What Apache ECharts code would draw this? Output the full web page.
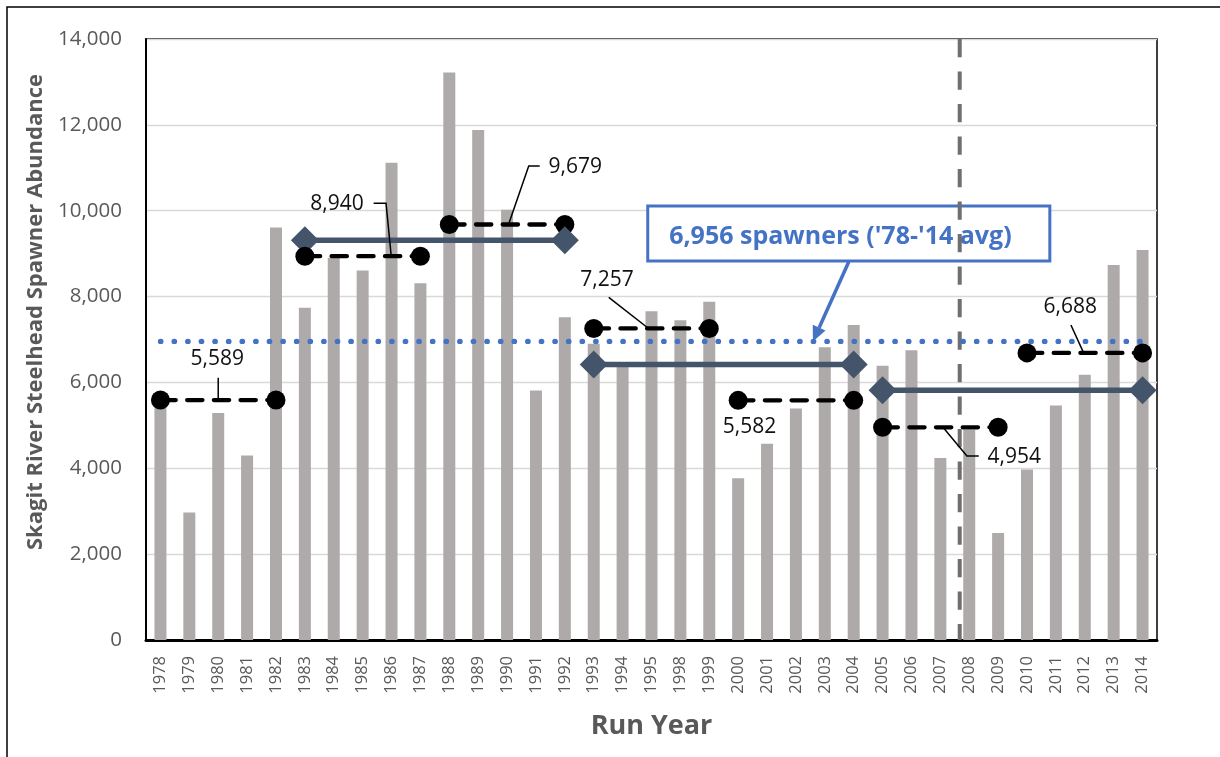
<!DOCTYPE html>
<html><head><meta charset="utf-8">
<script src="https://cdn.jsdelivr.net/npm/echarts@6/dist/echarts.min.js"></script>
<style>html,body{margin:0;padding:0;background:#fff}#c{width:1220px;height:757px}</style>
</head><body><div id="c"></div>
<script>
// ---- data ----
const years = ['1978','1979','1980','1981','1982','1983','1984','1985','1986','1987',
  '1988','1989','1990','1991','1992','1993','1994','1995','1998','1999',
  '2000','2001','2002','2003','2004','2005','2006','2007','2008','2009',
  '2010','2011','2012','2013','2014'];
const spawners = [5745,2970,5290,4300,9610,7740,8900,8610,11120,8310,
  13220,11880,10020,5810,7520,6900,6420,7660,7450,7880,
  3770,4570,5390,6820,7340,6390,6750,4240,4900,2490,
  3970,5460,6180,8735,9085];
const longTermAvg = 6956;
const fiveYrStart = ['1978','1983','1988','1993','2000','2005','2010'];
const fiveYrEnd   = ['1982','1987','1992','1999','2004','2009','2014'];
const fiveYrAvg   = [5589,8940,9679,7257,5582,4954,6688];
const periodStart = ['1983','1993','2005'];
const periodEnd   = ['1992','2004','2014'];
const periodAvg   = [9310,6420,5820];
const dividerPos  = 27.67; // between 2007 and 2008, in category-index units
const boxText = "6,956 spawners ('78-'14 avg)";

// ---- annotation layout (data-space anchors) ----
const noteLayout = [
  {at:[1.97,6534],  leader:[[2.0,6110],[2.0,5589]]},
  {at:[6.11,10156], leader:[[7.38,10173],[7.81,10173],[7.99,8940]]},
  {at:[14.36,11025],leader:[[13.13,11041],[12.75,11041],[12.05,9679]]},
  {at:[15.46,8386], leader:[[15.52,7983],[16.9,7257]]},
  {at:[20.39,4969], leader:null},
  {at:[29.56,4270], leader:[[28.33,4286],[27.92,4286],[27.09,4954]]},
  {at:[31.5,7764],  leader:[[31.52,7338],[31.96,6688]]}
];
const boxLayout = {tl:[16.87,10110], br:[30.79,8829], text:[23.54,9399], arrowFrom:[23.83,8812], arrowTo:[22.59,6956]};

const FONT = "'Open Sans', sans-serif";
const GREY = '#595959';
const fmt = v => v.toLocaleString('en-US');

const chart = echarts.init(document.getElementById('c'), null, {renderer:'canvas'});

const series = [
  {type:'bar', data:spawners, barWidth:12, itemStyle:{color:'#AEAAAA'}, z:2},
  {type:'line', xAxisIndex:1, data:[[dividerPos,14000],[dividerPos,0]], symbol:'none',
   lineStyle:{color:'#6F6F6F', width:4, type:[18.3,14.2]}, z:2.5},
  {type:'line', data:[[years[0],longTermAvg],[years[years.length-1],longTermAvg]], symbol:'none',
   lineStyle:{color:'#4472C4', width:5.2, type:[0.5,13.1], cap:'round'}, z:3}
];
periodAvg.forEach((v,i)=>{
  series.push({type:'line', data:[[periodStart[i],v],[periodEnd[i],v]], symbol:'diamond', symbolSize:28,
    itemStyle:{color:'#44546A'}, lineStyle:{color:'#44546A', width:5.5}, z:4});
});
fiveYrAvg.forEach((v,i)=>{
  series.push({type:'line', data:[[fiveYrStart[i],v],[fiveYrEnd[i],v]], symbol:'circle', symbolSize:19,
    itemStyle:{color:'#000'}, lineStyle:{color:'#000', width:4.3, type:[15.3,11.4], cap:'round'}, z: i===2?3.5:5});
});

chart.setOption({
  animation:false,
  backgroundColor:'#fff',
  grid:{left:146, top:39, width:1011, height:601, show:true, borderColor:'#000', borderWidth:1.5, containLabel:false},
  xAxis:[
    {type:'category', data:years, boundaryGap:true,
     axisLine:{onZero:false, lineStyle:{color:'#000', width:3}}, axisTick:{show:false},
     axisLabel:{rotate:90, interval:0, margin:16, fontSize:16.5, color:GREY, fontFamily:FONT},
     name:'Run Year', nameLocation:'middle', nameGap:73,
     nameTextStyle:{fontSize:27, fontWeight:'bold', color:GREY, fontFamily:FONT}},
    {type:'value', min:-0.5, max:years.length-0.5, show:false}
  ],
  yAxis:{type:'value', min:0, max:14000, interval:2000,
    axisLine:{show:true, onZero:false, lineStyle:{color:'#000', width:2}}, axisTick:{show:false},
    splitLine:{lineStyle:{color:'#D9D9D9', width:1.3}},
    axisLabel:{margin:24, fontSize:20.5, color:GREY, fontFamily:FONT, formatter:fmt}},
  series
});

function P(x,v){ return [chart.convertToPixel({xAxisIndex:1}, x), chart.convertToPixel({yAxisIndex:0}, v)]; }

const g = [];
g.push({type:'rect', shape:{x:7,y:7,width:1400,height:1000}, style:{fill:'none', stroke:'#000', lineWidth:1.5}, z:0, silent:true});
g.push({type:'text', x:36, y:312, rotation:Math.PI/2,
  style:{text:'Skagit River Steelhead Spawner Abundance', fontSize:22, fontWeight:'bold', fontFamily:FONT, fill:GREY, align:'center', verticalAlign:'middle'}, z:1});

// box
const tl = P(...boxLayout.tl), br = P(...boxLayout.br), tp = P(...boxLayout.text);
g.push({type:'rect', shape:{x:tl[0], y:tl[1], width:br[0]-tl[0], height:br[1]-tl[1]},
  style:{fill:'#fff', stroke:'#4472C4', lineWidth:3}, z:1});
g.push({type:'text', x:tp[0], y:tp[1], style:{text:boxText, fontSize:25, fontWeight:'bold', fontFamily:FONT, fill:'#4472C4', align:'center', verticalAlign:'middle'}, z:1});
// arrow
const a0 = P(...boxLayout.arrowFrom), a1 = P(...boxLayout.arrowTo);
const dx = a1[0]-a0[0], dy = a1[1]-a0[1], L = Math.hypot(dx,dy), ux = dx/L, uy = dy/L;
const headLen = 15, headW = 7;
const base = [a1[0]-ux*headLen, a1[1]-uy*headLen];
g.push({type:'line', shape:{x1:a0[0], y1:a0[1], x2:base[0], y2:base[1]}, style:{stroke:'#4472C4', lineWidth:3.5}, z:10});
g.push({type:'polygon', shape:{points:[a1,[base[0]-uy*headW, base[1]+ux*headW],[base[0]+uy*headW, base[1]-ux*headW]]}, style:{fill:'#4472C4'}, z:10});

// value labels
noteLayout.forEach((n,i)=>{
  const p = P(...n.at);
  g.push({type:'text', x:p[0], y:p[1], style:{text:fmt(fiveYrAvg[i]), fontSize:21, fontFamily:FONT, fill:'#111', align:'center', verticalAlign:'middle'}, z:10});
  if(n.leader){
    g.push({type:'polyline', shape:{points:n.leader.map(q=>P(...q))}, style:{stroke:'#000', lineWidth:1.5, fill:null}, z:10});
  }
});
chart.setOption({graphic:g});
</script></body></html>
